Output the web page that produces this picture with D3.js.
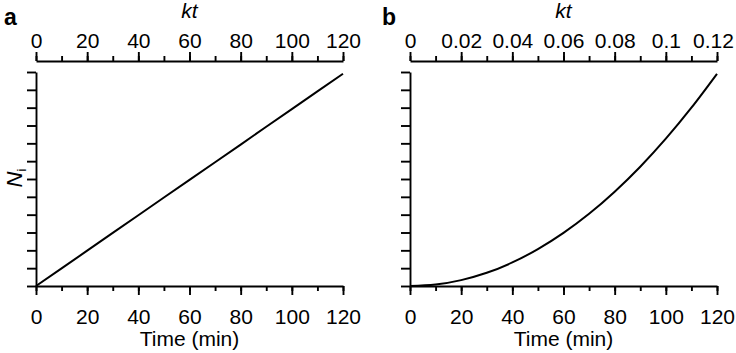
<!DOCTYPE html>
<html><head><meta charset="utf-8">
<script src="https://cdn.jsdelivr.net/npm/d3@7"></script>
<style>
body{margin:0;background:#fff;}
svg{display:block;font-family:"Liberation Sans",Arial,Helvetica,sans-serif;}
.axis path,.axis line{stroke:#000;stroke-width:1.9px;}
.axis text{font-size:21px;fill:#000;font-family:"Liberation Sans",Arial,sans-serif;}
</style></head>
<body>
<script>
// Data
const timeMin = [0,10,20,30,40,50,60,70,80,90,100,110,120];
const seriesA = [0,0.99,1.98,2.98,3.97,4.96,5.95,6.94,7.93,8.93,9.92,10.91,11.9];
const seriesB = [0,0.08,0.33,0.74,1.32,2.07,2.98,4.05,5.29,6.69,8.26,10.0,11.9];
const timeTicks = [0,20,40,60,80,100,120];
const ktTicksA = [0,20,40,60,80,100,120];
const ktTicksB = [0,0.02,0.04,0.06,0.08,0.1,0.12];
const ktLabelsB = ["0","0.02","0.04","0.06","0.08","0.1","0.12"];
const yTicks = [0,1,2,3,4,5,6,7,8,9,10,11,12];

const W=736,H=353;
const svg=d3.select("body").append("svg").attr("width",W).attr("height",H);

const yTop=72, yBot=286, topAxisY=61;
const y=d3.scaleLinear().domain([0,12]).range([yBot,yTop]);

const panels=[
  {letter:"a",x0:36,x1:343,kt:[0,120],ktTicks:ktTicksA,ktMinor:d3.range(0,121,10),ktLabels:ktTicksA.map(String),data:seriesA,curve:d3.curveLinear,ylabel:true},
  {letter:"b",x0:410,x1:717,kt:[0,0.12],ktTicks:ktTicksB,ktMinor:d3.range(0,13).map(d=>d/100),ktLabels:ktLabelsB,data:seriesB,curve:d3.curveMonotoneX,ylabel:false}
];

panels.forEach(p=>{
  const x=d3.scaleLinear().domain([0,120]).range([p.x0,p.x1]);
  const xk=d3.scaleLinear().domain(p.kt).range([p.x0,p.x1]);
  const g=svg.append("g");

  // bottom minor
  g.append("g").attr("class","axis").attr("transform",`translate(0,${yBot})`)
    .call(d3.axisBottom(x).tickValues(timeMin).tickSize(5).tickSizeOuter(0).tickFormat(""));
  // bottom major
  const gb=g.append("g").attr("class","axis").attr("transform",`translate(0,${yBot})`)
    .call(d3.axisBottom(x).tickValues(timeTicks).tickSize(9).tickSizeOuter(0).tickPadding(14));
  gb.select(".domain").remove();
  // top minor
  g.append("g").attr("class","axis").attr("transform",`translate(0,${topAxisY})`)
    .call(d3.axisTop(xk).tickValues(p.ktMinor).tickSize(5).tickSizeOuter(0).tickFormat(""));
  const gt=g.append("g").attr("class","axis").attr("transform",`translate(0,${topAxisY})`)
    .call(d3.axisTop(xk).tickValues(p.ktTicks).tickSize(9).tickSizeOuter(0).tickPadding(4)
      .tickFormat((d,i)=>p.ktLabels[i]));
  gt.select(".domain").remove();
  if(p.letter==="b"){
    gt.selectAll(".tick text").filter((d,i)=>i===p.ktTicks.length-1).attr("dx",-4);
  }
  // left
  g.append("g").attr("class","axis").attr("transform",`translate(${p.x0},0)`)
    .call(d3.axisLeft(y).tickValues(yTicks).tickSize(9).tickSizeOuter(0).tickFormat(""));

  // curve
  const line=d3.line().x((d,i)=>x(timeMin[i])).y(d=>y(d)).curve(p.curve);
  g.append("path").datum(p.data).attr("d",line).attr("fill","none")
    .attr("stroke","#000").attr("stroke-width",2);

  // labels
  g.append("text").attr("x",(p.x0+p.x1)/2).attr("y",346).attr("text-anchor","middle")
    .attr("font-size",21).text("Time (min)");
  g.append("text").attr("x",(p.x0+p.x1)/2).attr("y",18).attr("text-anchor","middle")
    .attr("font-size",21).attr("font-style","italic").text("kt");
  g.append("text").attr("x",p.letter==="a"?4:382).attr("y",25)
    .attr("font-size",23).attr("font-weight","bold").text(p.letter);
  if(p.ylabel){
    const t=g.append("text").attr("transform",`translate(22,178) rotate(-90)`)
      .attr("text-anchor","middle").attr("font-size",22);
    t.append("tspan").attr("font-style","italic").text("N");
    t.append("tspan").attr("font-size",13).attr("dy",4).text("i");
  }
});
</script>
</body></html>
